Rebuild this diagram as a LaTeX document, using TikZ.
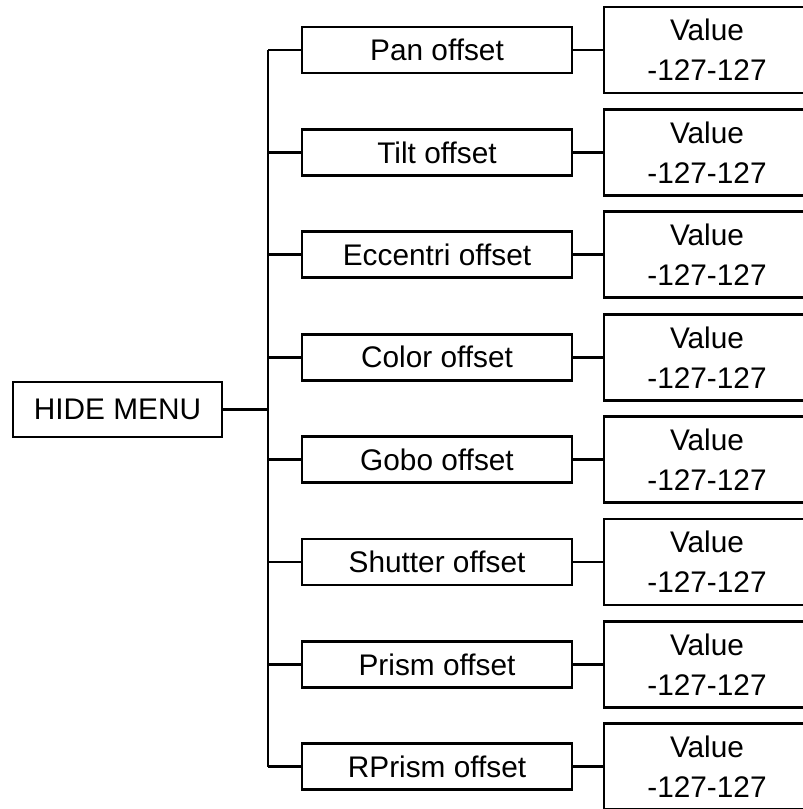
\documentclass[tikz,border=0pt]{standalone}
\usepackage{fontspec}
\setmainfont{Liberation Sans}
\usetikzlibrary{positioning}

\tikzset{
  menubox/.style={draw, line width=1.4pt, inner sep=0pt, font=\fontsize{14.9}{20}\selectfont},
  mainbox/.style={menubox, minimum width=104.5pt, minimum height=27.5pt},
  itembox/.style={menubox, minimum width=135pt, minimum height=23pt},
  valuebox/.style={menubox, minimum width=103pt, minimum height=43pt, align=center},
  link/.style={line width=1.4pt}
}

\begin{document}
\begin{tikzpicture}[x=0.5pt,y=-0.5pt]
\useasboundingbox (0,0) rectangle (803,809);

\node[mainbox] (hide) at (117.5,409.5) {HIDE MENU};
\coordinate (trunk) at (268,0);

\foreach \i/\name in {1/Pan, 2/Tilt, 3/Eccentri, 4/Color, 5/Gobo, 6/Shutter, 7/Prism, 8/RPrism}
{
  \node[itembox] (item\i) at (437,{50+(\i-1)*102.4}) {\name\ offset};
  \node[valuebox] (value\i) at (707,{50+(\i-1)*102.4}) {Value\\-127-127};
  \draw[link] (item\i.west -| trunk) -- (item\i.west);
  \draw[link] (item\i.east) -- (value\i.west);
}

\draw[link] (item1.west -| trunk) -- (item8.west -| trunk);
\draw[link] (hide.east) -- (hide.east -| trunk);

\end{tikzpicture}
\end{document}
